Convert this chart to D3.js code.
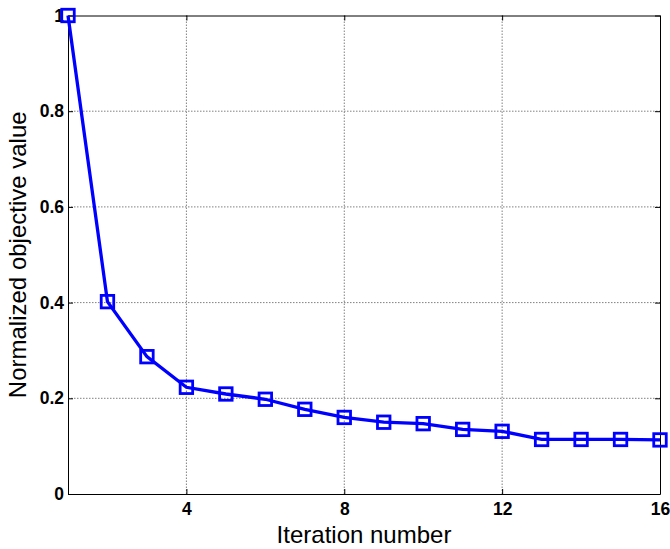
<!DOCTYPE html>
<html>
<head>
<meta charset="utf-8">
<style>
  body { margin: 0; background: #fff; }
  .tick text { font: bold 17.5px "Liberation Sans", Arial, sans-serif; fill: #000; }
  .grid line { stroke: #808080; stroke-width: 1; stroke-dasharray: 1.5 1.5; }
  .axis-label { font: 24px "Liberation Sans", Arial, sans-serif; fill: #000; }
</style>
</head>
<body>
<svg width="670" height="549"></svg>
<script src="https://d3js.org/d3.v7.min.js"></script>
<script>
var iterations = [1, 2, 3, 4, 5, 6, 7, 8, 9, 10, 11, 12, 13, 14, 15, 16];
var objective = [1.0, 0.402, 0.287, 0.223, 0.209, 0.198, 0.177, 0.160, 0.150, 0.147, 0.135, 0.131, 0.114, 0.114, 0.114, 0.113];
var xTicks = [4, 8, 12, 16];
var yTicks = [0, 0.2, 0.4, 0.6, 0.8, 1];

var margin = {top: 15.5, right: 10, bottom: 55, left: 68};
var svg = d3.select("svg"),
    width = 660 - margin.left,
    height = 494 - margin.top,
    g = svg.append("g").attr("transform", "translate(" + margin.left + "," + margin.top + ")");

var x = d3.scaleLinear().domain([1, 16]).range([0, width]);
var y = d3.scaleLinear().domain([0, 1]).range([height, 0]);

// dotted grid
g.append("g").attr("class", "grid")
  .selectAll("line").data(xTicks.filter(function (d) { return d < 16; }))
  .enter().append("line")
  .attr("x1", function (d) { return x(d); }).attr("x2", function (d) { return x(d); })
  .attr("y1", 0).attr("y2", height);
g.append("g").attr("class", "grid")
  .selectAll("line").data(yTicks.filter(function (d) { return d > 0 && d < 1; }))
  .enter().append("line")
  .attr("y1", function (d) { return y(d); }).attr("y2", function (d) { return y(d); })
  .attr("x1", 0).attr("x2", width);

// box axes, ticks pointing inward
g.append("g")
  .attr("transform", "translate(0," + height + ")")
  .call(d3.axisBottom(x).tickValues(xTicks).tickSizeInner(-5).tickSizeOuter(0).tickPadding(9).tickFormat(d3.format("d")));
g.append("g")
  .call(d3.axisLeft(y).tickValues(yTicks).tickSizeInner(-5).tickSizeOuter(0).tickPadding(4)
    .tickFormat(function (d) { return d === 0 || d === 1 ? d : d3.format(".1f")(d); }));
g.append("g")
  .call(d3.axisTop(x).tickValues(xTicks).tickSizeInner(-5).tickSizeOuter(0).tickFormat(""));
g.append("g")
  .attr("transform", "translate(" + width + ",0)")
  .call(d3.axisRight(y).tickValues(yTicks).tickSizeInner(-5).tickSizeOuter(0).tickFormat(""));
g.selectAll(".domain, .tick line").attr("stroke", "#000").attr("stroke-width", 1);

// series
var data = iterations.map(function (d, i) { return {it: d, v: objective[i]}; });
g.append("path")
  .datum(data)
  .attr("fill", "none")
  .attr("stroke", "#0000ff")
  .attr("stroke-width", 3.3)
  .attr("d", d3.line().x(function (d) { return x(d.it); }).y(function (d) { return y(d.v); }));

var s = 12.5;
g.selectAll(".marker").data(data).enter().append("rect")
  .attr("class", "marker")
  .attr("x", function (d) { return x(d.it) - s / 2; })
  .attr("y", function (d) { return y(d.v) - s / 2; })
  .attr("width", s).attr("height", s)
  .attr("fill", "none")
  .attr("stroke", "#0000ff")
  .attr("stroke-width", 2.8);

// axis titles
svg.append("text").attr("class", "axis-label")
  .attr("x", margin.left + width / 2).attr("y", 543)
  .attr("text-anchor", "middle")
  .text("Iteration number");
svg.append("text").attr("class", "axis-label")
  .attr("transform", "translate(26," + (margin.top + height / 2) + ") rotate(-90)")
  .attr("text-anchor", "middle")
  .text("Normalized objective value");
</script>
</body>
</html>
